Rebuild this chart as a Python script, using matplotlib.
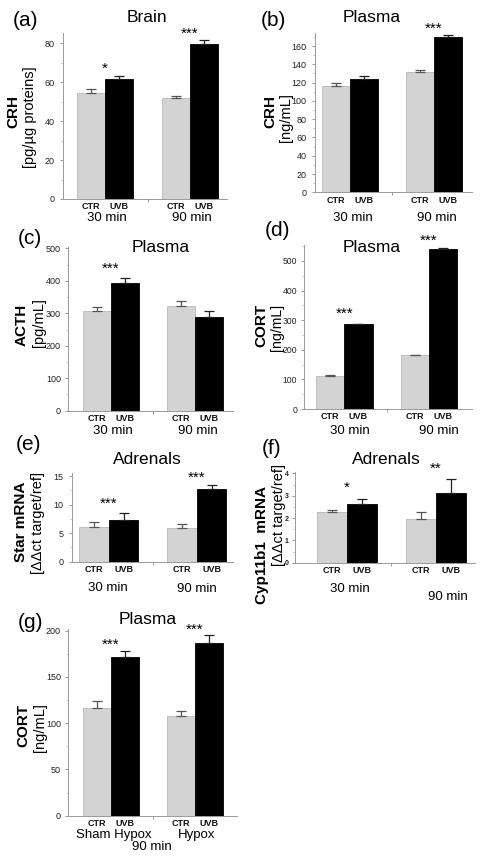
import numpy as np
import matplotlib
matplotlib.use("Agg")
import matplotlib.pyplot as plt
from matplotlib.ticker import MultipleLocator

plt.rcParams['font.family'] = ['Liberation Sans', 'DejaVu Sans']

W, H = 490, 860

# ---- data ----
groups = ["CTR", "UVB"]

# (a) brain CRH
a_ctr = [54.3, 51.7]
a_ctr_err = [2.4, 1.1]
a_uvb = [61.5, 79.6]
a_uvb_err = [1.7, 1.9]
a_stars = ["*", "***"]

# (b) plasma CRH
b_ctr = [116.3, 131.6]
b_ctr_err = [3.3, 1.9]
b_uvb = [124.0, 169.6]
b_uvb_err = [3.0, 2.4]
b_stars = ["", "***"]

# (c) plasma ACTH
c_ctr = [307, 321]
c_ctr_err = [11, 18]
c_uvb = [394, 287]
c_uvb_err = [14, 20]
c_stars = ["***", ""]

# (d) plasma CORT
d_ctr = [111.5, 181]
d_ctr_err = [3.5, 1.0]
d_uvb = [286, 540]
d_uvb_err = [2.0, 3.0]
d_stars = ["***", "***"]

# (e) adrenals Star mRNA
e_ctr = [6.0, 5.9]
e_ctr_err = [1.0, 0.64]
e_uvb = [7.24, 12.7]
e_uvb_err = [1.34, 0.67]
e_stars = ["***", "***"]

# (f) adrenals Cyp11b1 mRNA
f_ctr = [2.25, 1.97]
f_ctr_err = [0.09, 0.28]
f_uvb = [2.61, 3.13]
f_uvb_err = [0.24, 0.60]
f_stars = ["*", "**"]

# (g) plasma CORT, sham hypox vs hypox
g_ctr = [116, 107.3]
g_ctr_err = [8, 5.5]
g_uvb = [171.9, 186.3]
g_uvb_err = [5.7, 8.6]
g_stars = ["***", "***"]

time_labels = ["30 min", "90 min"]
g_labels = ["Sham Hypox", "Hypox"]

fig = plt.figure(figsize=(W / 100, H / 100), dpi=100)


def px_axes(l, r, t, b):
    return fig.add_axes([l / W, 1 - b / H, (r - l) / W, (b - t) / H])


def ftext(x, y, s, **kw):
    fig.text(x / W, 1 - y / H, s, **kw)


def panel(box, xlim, ylim, step, minor, ctr, ctr_err, uvb, uvb_err, stars, star_y,
          tick_fs=6.5, tick_bold=False, ypad=3.5):
    ax = px_axes(*box)
    x = np.arange(2)
    w = 0.335
    ax.bar(x - w / 2, ctr, w, color="#d3d3d3", edgecolor="#b8b8b8", linewidth=0.6,
           yerr=[np.zeros(2), ctr_err], error_kw=dict(ecolor="#555555", elinewidth=0.9,
                                                       capsize=3.5, capthick=0.9))
    ax.bar(x + w / 2, uvb, w, color="black", edgecolor="black", linewidth=0.6,
           yerr=[np.zeros(2), uvb_err], error_kw=dict(ecolor="#222222", elinewidth=0.9,
                                                       capsize=3.5, capthick=0.9))
    for i, s in enumerate(stars):
        if s:
            ax.text(i, star_y[i], s, ha="center", va="center", fontsize=11,
                    clip_on=False)
    ax.set_xlim(*xlim)
    ax.set_ylim(*ylim)
    ax.yaxis.set_major_locator(MultipleLocator(step))
    ax.yaxis.set_minor_locator(MultipleLocator(minor))
    ax.set_xticks([-w / 2, w / 2, 1 - w / 2, 1 + w / 2])
    ax.set_xticklabels(groups * 2, fontsize=6.5, fontweight="bold", color="#111111")
    ax.set_xticks([0.5], minor=True)
    ax.tick_params(axis="x", which="major", length=0, pad=2.5)
    ax.tick_params(axis="x", which="minor", length=2.5, color="#888888")
    ax.tick_params(axis="y", which="major", length=2.5, width=0.6, color="#888888",
                   labelsize=tick_fs, labelcolor="#222222", pad=ypad)
    ax.tick_params(axis="y", which="minor", length=1.5, width=0.5, color="#aaaaaa")
    if tick_bold:
        for lab in ax.get_yticklabels():
            lab.set_fontweight("bold")
    for sp in ["top", "right"]:
        ax.spines[sp].set_visible(False)
    for sp in ["left", "bottom"]:
        ax.spines[sp].set_color("#999999")
        ax.spines[sp].set_linewidth(0.7)
    return ax


# (a)
panel((63, 227, 33, 199), (-0.494, 1.435), (0, 85.3), 20, 10,
      a_ctr, a_ctr_err, a_uvb, a_uvb_err, a_stars, [67, 85])
ftext(25, 20, "(a)", fontsize=15, ha="center", va="center")
ftext(147, 18, "Brain", fontsize=12.5, ha="center", va="center")
ftext(13, 112, "CRH", fontsize=11, fontweight="bold", rotation=90, ha="center", va="center")
ftext(30, 117, "[pg/µg proteins]", fontsize=10.5, rotation=90, ha="center", va="center")
ftext(107, 218, time_labels[0], fontsize=9.5, ha="center", va="center")
ftext(192, 218, time_labels[1], fontsize=9.5, ha="center", va="center")

# (b)
panel((315, 472, 33, 192.3), (-0.417, 1.452), (0, 174.3), 20, 10,
      b_ctr, b_ctr_err, b_uvb, b_uvb_err, b_stars, [0, 179])
ftext(273, 20, "(b)", fontsize=15, ha="center", va="center")
ftext(372, 18, "Plasma", fontsize=12.5, ha="center", va="center")
ftext(270, 112, "CRH", fontsize=11, fontweight="bold", rotation=90, ha="center", va="center")
ftext(286, 118, "[ng/mL]", fontsize=10.5, rotation=90, ha="center", va="center")
ftext(353, 218, time_labels[0], fontsize=9.5, ha="center", va="center")
ftext(437, 218, time_labels[1], fontsize=9.5, ha="center", va="center")

# (c)
panel((68, 233, 246.7, 410.7), (-0.512, 1.452), (0, 505), 100, 50,
      c_ctr, c_ctr_err, c_uvb, c_uvb_err, c_stars, [437, 0], ypad=2.5)
ftext(30, 238, "(c)", fontsize=15, ha="center", va="center")
ftext(161, 247, "Plasma", fontsize=12.5, ha="center", va="center")
ftext(22, 325, "ACTH", fontsize=11, fontweight="bold", rotation=90, ha="center", va="center")
ftext(39, 323, "[pg/mL]", fontsize=10.5, rotation=90, ha="center", va="center")
ftext(113, 431, time_labels[0], fontsize=9.5, ha="center", va="center")
ftext(198, 431, time_labels[1], fontsize=9.5, ha="center", va="center")

# (d)
panel((304, 472, 245, 409), (-0.476, 1.508), (0, 554), 100, 50,
      d_ctr, d_ctr_err, d_uvb, d_uvb_err, d_stars, [322, 568], tick_fs=6.2, ypad=2.5)
ftext(277, 231, "(d)", fontsize=15, ha="center", va="center")
ftext(372, 247, "Plasma", fontsize=12.5, ha="center", va="center")
ftext(261, 325, "CORT", fontsize=11, fontweight="bold", rotation=90, ha="center", va="center")
ftext(276.5, 327, "[ng/mL]", fontsize=10.2, rotation=90, ha="center", va="center")
ftext(350, 431, time_labels[0], fontsize=9.5, ha="center", va="center")
ftext(439, 431, time_labels[1], fontsize=9.5, ha="center", va="center")

# (e)
panel((72, 233, 473.3, 561.7), (-0.42, 1.41), (0, 15.5), 5, 2.5,
      e_ctr, e_ctr_err, e_uvb, e_uvb_err, e_stars, [10.2, 14.7])
ftext(28, 445, "(e)", fontsize=15, ha="center", va="center")
ftext(147, 460, "Adrenals", fontsize=12.5, ha="center", va="center")
ftext(21, 522, "Star mRNA", fontsize=11, fontweight="bold", rotation=90, ha="center", va="center")
ftext(38, 523, "[ΔΔct target/ref]", fontsize=10.5, rotation=90, ha="center", va="center")
ftext(108, 588, time_labels[0], fontsize=9.5, ha="center", va="center")
ftext(197, 589, time_labels[1], fontsize=9.5, ha="center", va="center")

# (f)
panel((295, 475, 472.3, 562.7), (-0.58, 1.44), (0, 4.05), 1, 0.5,
      f_ctr, f_ctr_err, f_uvb, f_uvb_err, f_stars, [3.37, 4.22],
      tick_fs=5, tick_bold=True, ypad=2)
ftext(272, 448, "(f)", fontsize=15, ha="center", va="center")
ftext(386, 460, "Adrenals", fontsize=12.5, ha="center", va="center")
ftext(262, 545, "Cyp11b1  mRNA", fontsize=11, fontweight="bold", rotation=90, ha="center", va="center")
ftext(279, 515, "[ΔΔct target/ref]", fontsize=10.5, rotation=90, ha="center", va="center")
ftext(350, 589, time_labels[0], fontsize=9.5, ha="center", va="center")
ftext(448, 597, time_labels[1], fontsize=9.5, ha="center", va="center")

# (g)
panel((68, 237, 629.3, 815.7), (-0.512, 1.5), (0, 201.5), 50, 25,
      g_ctr, g_ctr_err, g_uvb, g_uvb_err, g_stars, [185, 201], ypad=2.5)
ftext(30, 623, "(g)", fontsize=15, ha="center", va="center")
ftext(148, 619, "Plasma", fontsize=12.5, ha="center", va="center")
ftext(23, 725, "CORT", fontsize=11, fontweight="bold", rotation=90, ha="center", va="center")
ftext(40, 728, "[ng/mL]", fontsize=10.5, rotation=90, ha="center", va="center")
ftext(114, 835, g_labels[0], fontsize=9.5, ha="center", va="center")
ftext(197, 835, g_labels[1], fontsize=9.5, ha="center", va="center")
ftext(152, 847, "90 min", fontsize=9.5, ha="center", va="center")

fig.savefig("out.png", dpi=100)
